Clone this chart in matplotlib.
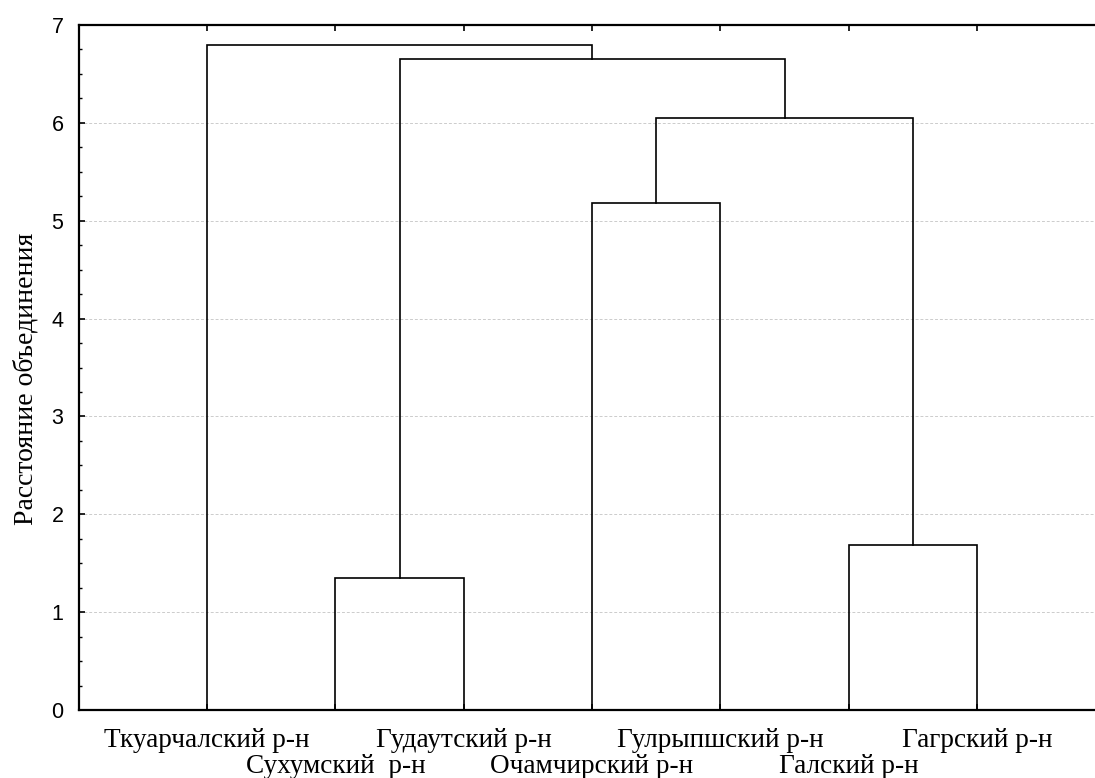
import matplotlib
matplotlib.use("Agg")
import matplotlib.pyplot as plt
from matplotlib.ticker import MultipleLocator

# Leaves in dendrogram order
leaf_labels = ["Ткуарчалский р-н", "Сухумский  р-н", "Гудаутский р-н",
               "Очамчирский р-н", "Гулрыпшский р-н", "Галский р-н", "Гагрский р-н"]
# Merges: (left cluster id, right cluster id, linkage distance)
# leaf ids 0..6, new clusters 7,8,...
merge_left = [1, 3, 5, 8, 7, 0]
merge_right = [2, 4, 6, 9, 10, 11]
merge_height = [1.35, 5.18, 1.69, 6.05, 6.65, 6.80]
y_label = "Расстояние объединения"
y_ticks = [0, 1, 2, 3, 4, 5, 6, 7]

fig = plt.figure(figsize=(10.95, 7.78), dpi=100)
ax = fig.add_axes([78.67 / 1095, 68 / 778, 1026.7 / 1095, 685 / 778])

n = len(leaf_labels)
xpos = {i: i + 1 for i in range(n)}
ypos = {i: 0.0 for i in range(n)}
for k, (a, b, h) in enumerate(zip(merge_left, merge_right, merge_height)):
    xa, ya = xpos[a], ypos[a]
    xb, yb = xpos[b], ypos[b]
    ax.plot([xa, xa, xb, xb], [ya, h, h, yb], color="black", lw=1.2,
            solid_joinstyle="miter", zorder=3)
    cid = n + k
    xpos[cid] = (xa + xb) / 2
    ypos[cid] = h

ax.set_xlim(0, n + 1)
ax.set_ylim(0, 7)
ax.set_yticks(y_ticks)
ax.yaxis.set_minor_locator(MultipleLocator(0.25))
ax.set_yticklabels([str(t) for t in y_ticks], fontsize=15.5, family="Liberation Sans")
ax.tick_params(axis="y", which="major", direction="in", length=4, width=1.2, pad=11)
ax.tick_params(axis="y", which="minor", direction="in", length=2.5, width=1.0)
ax.grid(axis="y", which="major", color="#cccccc", linestyle=(0, (3, 2)), lw=0.7)
ax.set_axisbelow(True)

ax.set_xticks(range(1, n + 1))
ax.set_xticklabels([])
ax.tick_params(axis="x", which="major", direction="in", length=4, width=1.2,
               top=True, bottom=True)

for i, lab in enumerate(leaf_labels):
    yoff = -37 if i % 2 == 0 else -63
    ax.annotate(lab, xy=(i + 1, 0), xycoords="data", xytext=(0, yoff),
                textcoords="offset pixels",
                ha="center", va="baseline", fontsize=19.6, family="Liberation Serif")

ax.set_ylabel(y_label, fontsize=20, family="Liberation Serif", va="center")
ax.yaxis.set_label_coords((26 - 78.67) / 1026.7, (710 - 379) / 685)

for s in ax.spines.values():
    s.set_linewidth(1.6)

fig.savefig("out.png", dpi=100)
